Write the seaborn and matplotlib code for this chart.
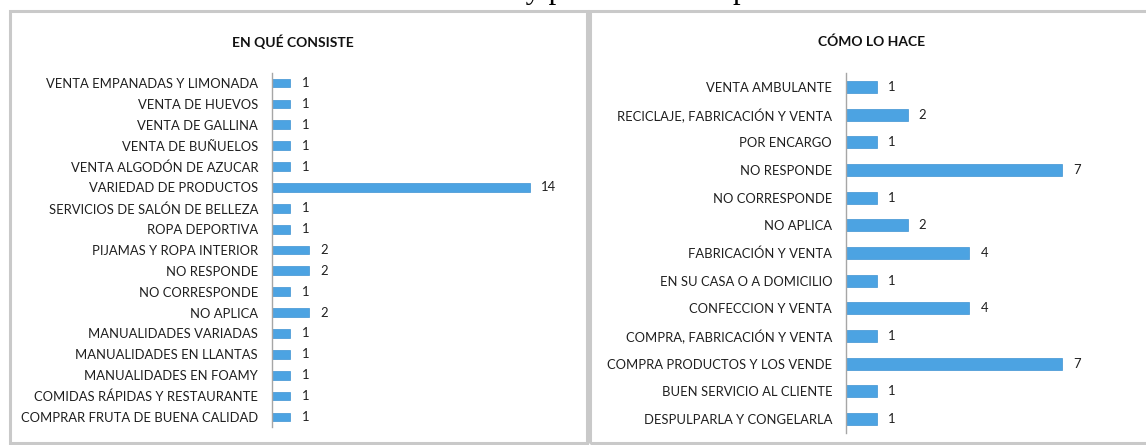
import matplotlib
matplotlib.use("Agg")
import matplotlib.pyplot as plt
import seaborn as sns
import pandas as pd
from matplotlib.patches import Rectangle

sns.set_theme(style="white")
plt.rcParams['font.family'] = ['Lato', 'DejaVu Sans']

left_title = "EN QUÉ CONSISTE"
left_categories = [
    "VENTA EMPANADAS Y LIMONADA", "VENTA DE HUEVOS", "VENTA DE GALLINA",
    "VENTA DE BUÑUELOS", "VENTA ALGODÓN DE AZUCAR", "VARIEDAD DE PRODUCTOS",
    "SERVICIOS DE SALÓN DE BELLEZA", "ROPA DEPORTIVA", "PIJAMAS Y ROPA INTERIOR",
    "NO RESPONDE", "NO CORRESPONDE", "NO APLICA", "MANUALIDADES VARIADAS",
    "MANUALIDADES EN LLANTAS", "MANUALIDADES EN FOAMY",
    "COMIDAS RÁPIDAS Y RESTAURANTE", "COMPRAR FRUTA DE BUENA CALIDAD",
]
left_values = [1, 1, 1, 1, 1, 14, 1, 1, 2, 2, 1, 2, 1, 1, 1, 1, 1]

right_title = "CÓMO LO HACE"
right_categories = [
    "VENTA AMBULANTE", "RECICLAJE, FABRICACIÓN Y VENTA", "POR ENCARGO",
    "NO RESPONDE", "NO CORRESPONDE", "NO APLICA", "FABRICACIÓN Y VENTA",
    "EN SU CASA O A DOMICILIO", "CONFECCION Y VENTA",
    "COMPRA, FABRICACIÓN Y VENTA", "COMPRA PRODUCTOS Y LOS VENDE",
    "BUEN SERVICIO AL CLIENTE", "DESPULPARLA Y CONGELARLA",
]
right_values = [1, 2, 1, 7, 1, 2, 4, 1, 4, 1, 7, 1, 1]

fig_title = "Gráfica 17. Detalle y proceso del emprendimiento."

W, H = 1146, 445
fig = plt.figure(figsize=(W / 100, H / 100), dpi=100)
fig.patch.set_facecolor("white")

BAR = "#4CA3E2"
BORDER = "#C9C9C9"


def px_axes(x0, y0, x1, y1):
    return fig.add_axes([x0 / W, 1 - y1 / H, (x1 - x0) / W, (y1 - y0) / H])


# panel borders
for (x0, y0, x1, y1) in [(10, 11, 587, 443), (590, 11, 1160, 443)]:
    fig.patches.append(Rectangle((x0 / W, 1 - y1 / H), (x1 - x0) / W, (y1 - y0) / H,
                                 transform=fig.transFigure, fill=False,
                                 edgecolor=BORDER, linewidth=2.2))

# page caption above the panels (cut off at the top edge, as in the reference)
fig.text(594 / W, 1 + 2.5 / H, fig_title, ha="center", va="baseline",
         fontsize=22, family=["Liberation Serif", "DejaVu Serif"], color="black")


def draw(ax, cats, vals, xmax, title, title_x, fs, bar_h, label_off):
    df = pd.DataFrame({"cat": cats, "val": vals})
    sns.barplot(data=df, y="cat", x="val", orient="h", color=BAR, ax=ax,
                width=bar_h, saturation=1, edgecolor="#3F93D2", linewidth=0.5)
    ax.set_xlim(0, xmax)
    ax.set_ylim(len(cats) - 0.5, -0.5)
    ax.set_xlabel("")
    ax.set_ylabel("")
    ax.set_xticks([])
    for s in ["top", "right", "bottom"]:
        ax.spines[s].set_visible(False)
    ax.spines["left"].set_color("#A6A6A6")
    ax.spines["left"].set_linewidth(1.0)
    ax.tick_params(axis="y", length=0, pad=10, labelsize=fs, colors="#1f1f1f")
    for i, v in enumerate(vals):
        ax.annotate(f"{v}", (v, i), xytext=(label_off, 0), textcoords="offset points",
                    ha="left", va="center", fontsize=fs, color="#1f1f1f",
                    annotation_clip=False)
    fig.text(title_x / W, 1 - 42 / H, title, ha="center", va="center",
             fontsize=10, fontweight="bold", color="#111111")


axL = px_axes(272, 72.6, 578, 427.4)
draw(axL, left_categories, left_values, (578 - 272) / 18.43, left_title, 293, 9.4, 0.42, 8)

axR = px_axes(846, 73.2, 1140, 432.8)
draw(axR, right_categories, right_values, (1140 - 846) / 30.86, right_title, 872, 9.4, 0.44, 8)

fig.savefig("out.png", dpi=100, facecolor="white")
